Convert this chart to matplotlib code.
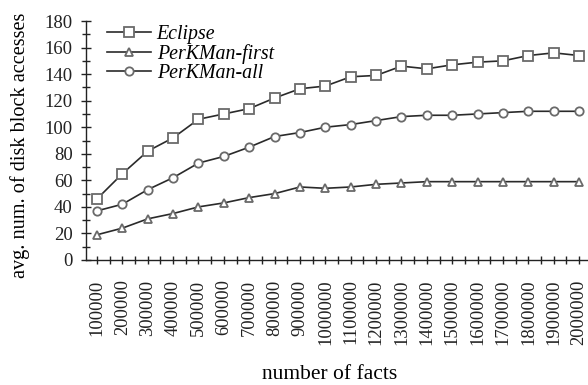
import matplotlib
matplotlib.use("Agg")
import matplotlib.pyplot as plt
from matplotlib.ticker import MultipleLocator

plt.rcParams['font.family'] = ['Liberation Serif', 'DejaVu Serif']

facts = [100000 * i for i in range(1, 21)]
eclipse = [46, 65, 82, 92, 106, 110, 114, 122, 129, 131, 138, 139, 146, 144, 147, 149, 150, 154, 156, 154]
perk_first = [19, 24, 31, 35, 40, 43, 47, 50, 55, 54, 55, 57, 58, 59, 59, 59, 59, 59, 59, 59]
perk_all = [37, 42, 53, 62, 73, 78, 85, 93, 96, 100, 102, 105, 108, 109, 109, 110, 111, 112, 112, 112]
series_names = ["Eclipse", "PerKMan-first", "PerKMan-all"]

fig = plt.figure(figsize=(5.88, 3.85), dpi=100)
ax = fig.add_axes([86/588, 1 - 260/385, 1 - 86/588, (260 - 21)/385])

lc = '#2a2a2a'
mec = '#6a6a6a'
common = dict(color=lc, lw=1.2, mfc='white', mec=mec, mew=1.3)
ax.plot(facts, eclipse, marker='s', ms=6.5, label=series_names[0], **common)
ax.plot(facts, perk_first, marker='^', ms=6, label=series_names[1], **common)
ax.plot(facts, perk_all, marker='o', ms=6, label=series_names[2], **common)

ax.set_xlim(56700, 2035000)
ax.set_ylim(0, 180)
ax.spines['top'].set_visible(False)
ax.spines['right'].set_visible(False)
for s in ['left', 'bottom']:
    ax.spines[s].set_color('#222222')
    ax.spines[s].set_linewidth(1.0)

ax.set_xticks(facts)
ax.set_xticklabels([str(f) for f in facts], rotation=90, fontsize=13.3)
ax.xaxis.set_minor_locator(MultipleLocator(50000))
ax.yaxis.set_major_locator(MultipleLocator(20))
ax.yaxis.set_minor_locator(MultipleLocator(10))
ax.tick_params(axis='y', which='major', direction='inout', length=7.2, width=1, labelsize=13.5, pad=6, colors='#222222')
ax.tick_params(axis='y', which='minor', direction='inout', length=6, width=1, colors='#222222')
ax.tick_params(axis='x', which='major', direction='inout', length=6, width=1, pad=11, colors='#222222')
ax.tick_params(axis='x', which='minor', direction='inout', length=6, width=1, colors='#222222')

ax.set_ylabel("avg. num. of disk block accesses", fontsize=14.6)
ax.yaxis.set_label_coords(-0.112, 0.481)
ax.set_xlabel("number of facts", fontsize=15.5)
ax.xaxis.set_label_coords(0.486, -0.44)

leg = ax.legend(loc='upper left', bbox_to_anchor=(0.026, 1.017), frameon=False,
                prop={'family': 'Liberation Serif', 'style': 'italic', 'size': 14.3},
                handlelength=2.2, handletextpad=0.3, labelspacing=0.0, borderaxespad=0)

fig.savefig("out.png", dpi=100)
